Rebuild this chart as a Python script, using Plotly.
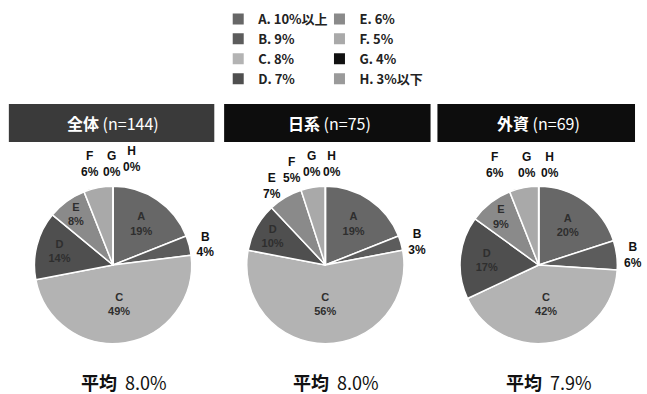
import plotly.graph_objects as go

slice_labels = ["A", "B", "C", "D", "E", "F", "G", "H"]
legend_labels = ["A. 10%以上", "B. 9%", "C. 8%", "D. 7%", "E. 6%", "F. 5%", "G. 4%", "H. 3%以下"]
colors = ["#676767", "#5c5c5c", "#b3b3b3", "#4f4f4f", "#8a8a8a", "#a9a9a9", "#111111", "#9a9a9a"]

groups = ["全体", "日系", "外資"]
group_n = ["(n=144)", "(n=75)", "(n=69)"]
averages = ["8.0%", "8.0%", "7.9%"]
values_all = [19, 4, 49, 14, 8, 6, 0, 0]
values_jp = [19, 3, 56, 10, 7, 5, 0, 0]
values_fr = [20, 6, 42, 17, 9, 6, 0, 0]
series = [values_all, values_jp, values_fr]

# which slices get Plotly's own label ("inside"/"outside"); the others are annotated
textpos = [
    ["inside", "outside", "inside", "inside", "inside", "none", "none", "none"],
    ["inside", "outside", "inside", "inside", "none", "none", "none", "none"],
    ["inside", "outside", "inside", "inside", "inside", "none", "none", "none"],
]
# positions (px offset from pie centre, px from top) of the annotated small-slice labels
label_pos = [
    {"F": (-23, 164), "G": (-1, 164), "H": (19, 159)},
    {"E": (-54, 186), "F": (-34, 170), "G": (-14, 164), "H": (7, 164)},
    {"F": (-44, 165), "G": (-12, 165), "H": (12, 165)},
]

W, H = 647, 394
centers = [115, 331, 548]
cy, rad = 265, 80
boxes = [(9, 218, "#3a3a3a"), (228, 438, "#0d0d0d"), (445, 646, "#0d0d0d")]

fig = go.Figure()
for i, vals in enumerate(series):
    cx = centers[i]
    fig.add_trace(go.Pie(
        labels=slice_labels, values=vals, sort=False, direction="clockwise", rotation=0,
        marker=dict(colors=colors, line=dict(color="white", width=1.5)),
        texttemplate="%{label}<br>%{value}%", textposition=textpos[i],
        insidetextorientation="horizontal",
        insidetextfont=dict(family="Liberation Sans", size=11, color="#2e2e2e", weight="bold"),
        outsidetextfont=dict(family="Liberation Sans", size=12, color="#111111", weight="bold"),
        textinfo="text", showlegend=False, hoverinfo="skip",
        domain=dict(x=[(cx - rad) / W, (cx + rad) / W], y=[(H - cy - rad) / H, (H - cy + rad) / H]),
    ))
    for j, lab in enumerate(slice_labels):
        if lab in label_pos[i]:
            dx, ty = label_pos[i][lab]
            fig.add_annotation(xref="paper", yref="paper", x=(cx + dx) / W, y=(H - ty) / H,
                               xanchor="center", yanchor="middle", showarrow=False,
                               text=f"{lab}<br>{vals[j]}%",
                               font=dict(family="Liberation Sans", size=12, color="#111111",
                                         weight="bold"))

# legend entries
for k, (lab, col) in enumerate(zip(legend_labels, colors)):
    fig.add_trace(go.Scatter(
        x=[None], y=[None], mode="markers", name=lab,
        marker=dict(symbol="square", size=11, color=col),
        legend="legend" if k < 4 else "legend2",
    ))

for i, (x0, x1, col) in enumerate(boxes):
    fig.add_shape(type="rect", xref="paper", yref="paper",
                  x0=x0 / W, x1=x1 / W, y0=(H - 142) / H, y1=(H - 104) / H,
                  fillcolor=col, line=dict(width=0), layer="above")
    fig.add_annotation(xref="paper", yref="paper", x=(x0 + x1) / 2 / W + 0.003, y=(H - 123) / H,
                       xanchor="center", yanchor="middle",
                       text=f"<b>{groups[i]}</b> {group_n[i]}", showarrow=False,
                       font=dict(family="Noto Sans CJK JP", size=16, color="white"))
    fig.add_annotation(xref="paper", yref="paper", x=(centers[i] + 11) / W, y=(H - 382) / H,
                       xanchor="center", yanchor="middle",
                       text=f"<b>平均</b>  {averages[i]}", showarrow=False,
                       font=dict(family="Noto Sans CJK JP", size=18, color="#111111"))

legend_font = dict(family="Noto Sans CJK JP", size=13, color="#222222", weight="bold")
fig.update_layout(
    width=W, height=H, margin=dict(l=0, r=0, t=0, b=0),
    paper_bgcolor="white", plot_bgcolor="rgba(0,0,0,0)",
    xaxis=dict(visible=False), yaxis=dict(visible=False),
    legend=dict(x=222 / W, y=(H - 4) / H, xanchor="left", yanchor="top",
                font=legend_font, tracegroupgap=0, itemwidth=30,
                bgcolor="rgba(0,0,0,0)"),
    legend2=dict(x=325 / W, y=(H - 4) / H, xanchor="left", yanchor="top",
                 font=legend_font, tracegroupgap=0, itemwidth=30,
                 bgcolor="rgba(0,0,0,0)"),
)
fig.write_html("out.html")
